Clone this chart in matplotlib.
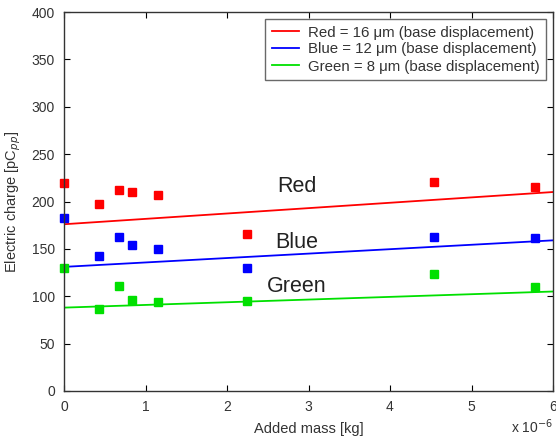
import numpy as np
import matplotlib
matplotlib.use("Agg")
import matplotlib.pyplot as plt

plt.rcParams['font.family'] = ['Liberation Sans', 'DejaVu Sans']

# Added mass in units of 1e-6 kg
mass = [0.0, 0.43, 0.68, 0.84, 1.15, 2.24, 4.54, 5.78]
red_charge = [219, 197, 212, 210, 207, 166, 221, 215]
blue_charge = [183, 143, 163, 154, 150, 130, 163, 162]
green_charge = [130, 87, 111, 96, 94, 95, 123, 110]

# fitted line end values at mass = 0 and mass = 6
fit_x = [0, 6]
red_fit = [176, 210]
blue_fit = [131, 159]
green_fit = [88, 105]

legend_labels = ["Red = 16 \u03bcm (base displacement)",
                 "Blue = 12 \u03bcm (base displacement)",
                 "Green = 8 \u03bcm (base displacement)"]
series_names = ["Red", "Blue", "Green"]
series_label_pos = [(2.86, 216), (2.86, 157), (2.86, 110)]

colors = ['#ff0000', '#0000ff', '#00e000']
txt = '#333333'

fig = plt.figure(figsize=(5.56, 4.38), dpi=100)
ax = fig.add_axes([64/556, (438-391)/438, (553-64)/556, (391-12)/438])

for ys, fit, c, lab in zip([red_charge, blue_charge, green_charge],
                           [red_fit, blue_fit, green_fit], colors, legend_labels):
    ax.plot(fit_x, fit, color=c, lw=1.3, label=lab)
    ax.plot(mass, ys, 's', color=c, ms=6, mec=c, clip_on=False)

for name, (x, y) in zip(series_names, series_label_pos):
    ax.text(x, y, name, fontsize=15.5, ha='center', va='center', color='#222222')

ax.set_xlim(0, 6)
ax.set_ylim(0, 400)
ax.set_xticks(range(0, 7))
ax.set_yticks(range(0, 401, 50))
ax.tick_params(direction='in', length=4, top=True, right=True, labelsize=10,
               labelcolor=txt, pad=6.5)
for s in ax.spines.values():
    s.set_linewidth(1.0)
    s.set_color('#333333')

ax.set_xlabel("Added mass [kg]", fontsize=10.5, color=txt, labelpad=6)
ax.set_ylabel("Electric charge [pC$_{pp}$]", fontsize=10.5, color=txt, labelpad=6)
ax.text(1.0, -0.07, "x 10$^{-6}$", transform=ax.transAxes, ha='right', va='top',
        fontsize=10, color=txt)

leg = ax.legend(loc='upper right', fontsize=10.8, frameon=True, fancybox=False,
                edgecolor='#444444', handlelength=1.8, handletextpad=0.6,
                borderaxespad=0.45, borderpad=0.45, labelspacing=0.2)
leg.get_frame().set_linewidth(1.0)
for t in leg.get_texts():
    t.set_color(txt)

fig.savefig("out.png", dpi=100)
